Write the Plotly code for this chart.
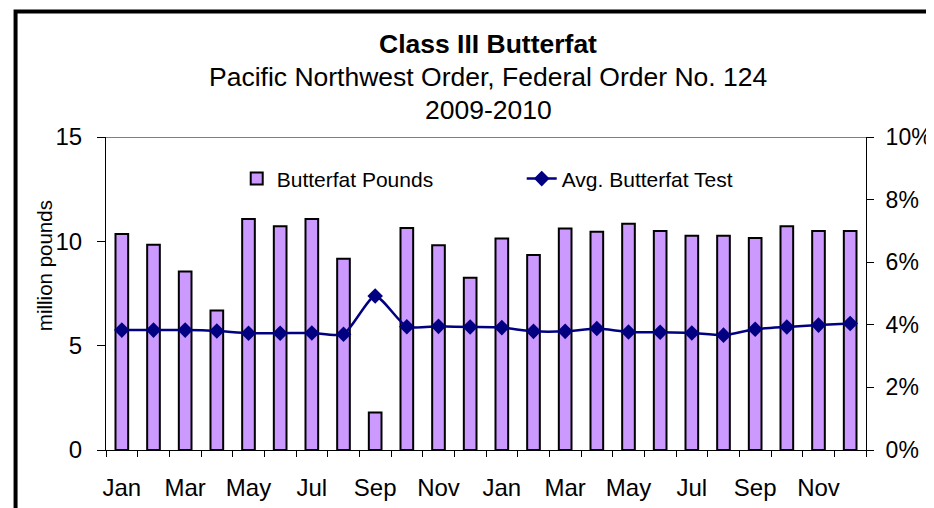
import plotly.graph_objects as go

months = ["Jan", "Feb", "Mar", "Apr", "May", "Jun", "Jul", "Aug", "Sep", "Oct", "Nov", "Dec"] * 2
butterfat_pounds = [10.35, 9.84, 8.56, 6.69, 11.07, 10.72, 11.07, 9.17, 1.80, 10.64, 9.81, 8.26,
                    10.13, 9.34, 10.61, 10.46, 10.84, 10.49, 10.27, 10.27, 10.16, 10.72, 10.49, 10.49]
butterfat_test = [3.83, 3.83, 3.83, 3.80, 3.73, 3.73, 3.74, 3.70, 4.92, 3.94, 3.95, 3.93,
                  3.91, 3.79, 3.79, 3.88, 3.77, 3.76, 3.74, 3.67, 3.86, 3.93, 3.99, 4.04]

FONT = "Liberation Sans, Arial, sans-serif"
idx = list(range(len(months)))
label_vals = idx[::2]
label_text = months[::2]
boundaries = [i - 0.5 for i in range(len(months) + 1)]

fig = go.Figure()
fig.add_trace(go.Bar(
    x=idx, y=butterfat_pounds, name="Butterfat Pounds", width=0.4,
    marker=dict(color="#CC99FF", line=dict(color="black", width=2)),
    yaxis="y",
))
fig.add_trace(go.Scatter(
    x=idx, y=butterfat_test, name="Avg. Butterfat Test", mode="lines+markers",
    line=dict(color="#000080", width=2.5, shape="spline", smoothing=0.6),
    marker=dict(symbol="diamond", size=12, color="#000080"),
    yaxis="y2",
))

common = dict(automargin=False, showgrid=False, zeroline=False)

fig.update_layout(
    width=934, height=508,
    margin=dict(l=98, r=76, t=129, b=66),
    paper_bgcolor="white", plot_bgcolor="white",
    font=dict(family=FONT, color="black", size=24),
    showlegend=True,
    legend=dict(orientation="h", x=0.172, y=0.866, xanchor="left", yanchor="middle",
                font=dict(size=21), bgcolor="rgba(0,0,0,0)", entrywidth=240,
                entrywidthmode="pixels", traceorder="normal"),
    xaxis=dict(range=[-0.5, len(months) - 0.5], tickmode="array", tickvals=label_vals,
               ticktext=label_text, ticks="", showline=True, linecolor="black", linewidth=1,
               ticklabelstandoff=16,
               minor=dict(tickmode="array", tickvals=boundaries, ticks="outside",
                          ticklen=6, tickcolor="black", tickwidth=1, showgrid=False),
               **common),
    xaxis3=dict(overlaying="x", range=[-0.5, len(months) - 0.5], showticklabels=False,
                tickmode="array", tickvals=boundaries, ticks="inside", ticklen=6,
                tickcolor="black", showline=False, **common),
    yaxis=dict(range=[0, 15], dtick=5, ticks="outside", ticklen=8, tickcolor="black",
               showline=True, linecolor="black", linewidth=1, ticklabelstandoff=10,
               **common),
    yaxis3=dict(overlaying="y", range=[0, 15], dtick=5, ticks="inside", ticklen=8,
                tickcolor="black", showticklabels=False, showline=False, **common),
    yaxis2=dict(range=[0, 10], dtick=2, ticksuffix="%", overlaying="y", side="right",
                ticks="outside", ticklen=7, tickcolor="black", showline=True,
                linecolor="black", linewidth=1, ticklabelstandoff=7,
                tickfont=dict(size=23), **common),
    yaxis4=dict(overlaying="y", side="right", range=[0, 10], dtick=2, ticks="inside",
                ticklen=6, tickcolor="black", showticklabels=False, showline=False,
                **common),
)

# top border line of plot area
fig.add_shape(type="line", xref="x domain", yref="y", x0=0, x1=1, y0=15, y1=15,
              line=dict(color="black", width=1))
# outer frame (cut off at right and bottom)
fig.add_shape(type="rect", xref="paper", yref="paper", x0=-0.119, x1=1.2, y0=-1, y1=1.401,
              line=dict(color="black", width=4), layer="above")

fig.add_annotation(text="<b>Class III Butterfat</b>", xref="paper", yref="paper",
                   x=0.503, y=1.297, showarrow=False, font=dict(size=26.5),
                   xanchor="center", yanchor="middle")
fig.add_annotation(text="Pacific Northwest Order, Federal Order No. 124", xref="paper",
                   yref="paper", x=0.503, y=1.192, showarrow=False, font=dict(size=26.5),
                   xanchor="center", yanchor="middle")
fig.add_annotation(text="2009-2010", xref="paper", yref="paper", x=0.503, y=1.086,
                   showarrow=False, font=dict(size=26.5), xanchor="center", yanchor="middle")
fig.add_annotation(text="million pounds", xref="paper", yref="paper", x=-0.080, y=0.588,
                   showarrow=False, textangle=-90, font=dict(size=20.5),
                   xanchor="center", yanchor="middle")

fig.write_html("out.html")
